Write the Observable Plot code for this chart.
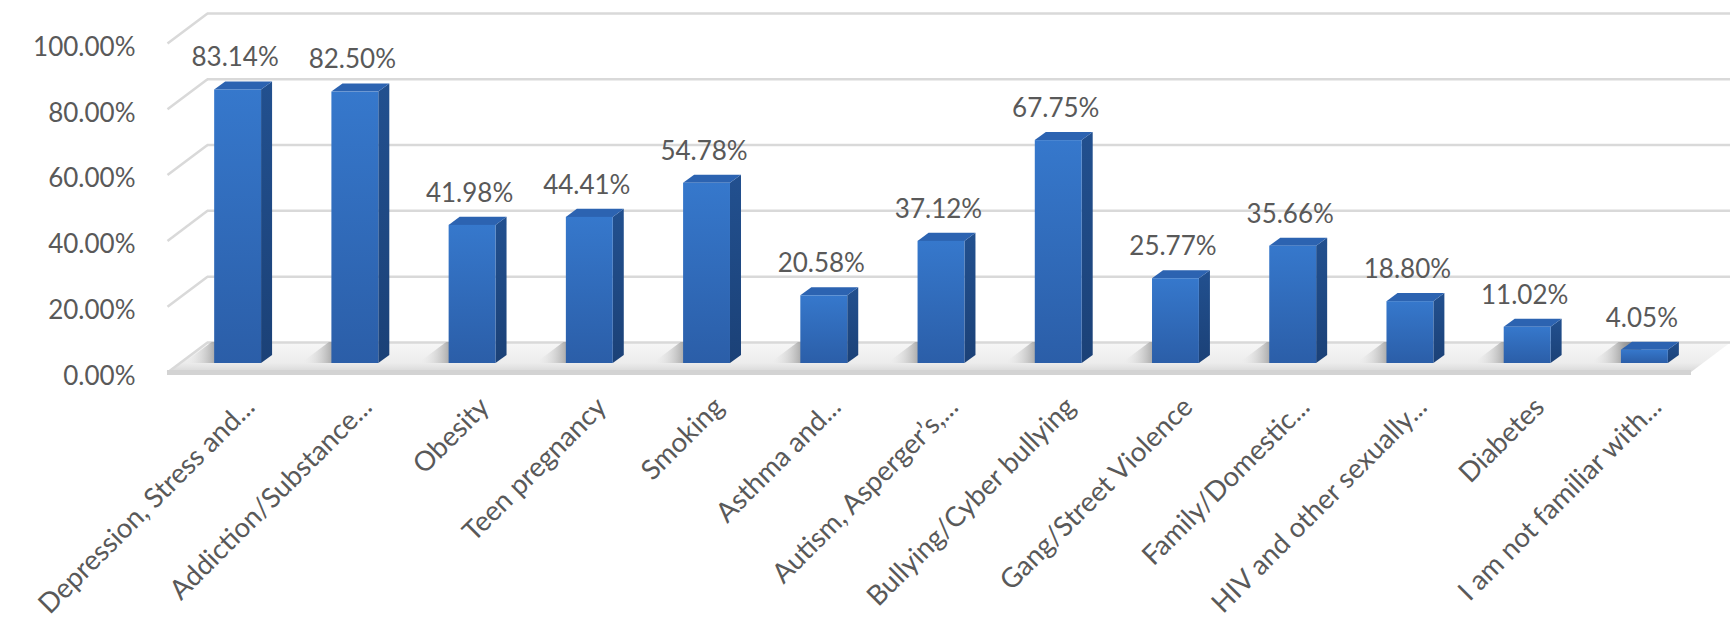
<!DOCTYPE html>
<html><head><meta charset="utf-8">
<script src="https://cdn.jsdelivr.net/npm/d3@7"></script>
<script src="https://cdn.jsdelivr.net/npm/@observablehq/plot@0.6"></script>
<style>
html,body{margin:0;padding:0;background:#fff;}
#chart{width:1730px;height:626px;overflow:hidden;}
</style></head><body><div id="chart"></div>
<script>
// ---- data ----
const categories = [
  "Depression, Stress and...",
  "Addiction/Substance...",
  "Obesity",
  "Teen pregnancy",
  "Smoking",
  "Asthma and...",
  "Autism, Asperger’s,...",
  "Bullying/Cyber bullying",
  "Gang/Street Violence",
  "Family/Domestic...",
  "HIV and other sexually...",
  "Diabetes",
  "I am not familiar with..."
];
const values = [83.14, 82.50, 41.98, 44.41, 54.78, 20.58, 37.12, 67.75, 25.77, 35.66, 18.80, 11.02, 4.05];
const yTicks = [0, 20, 40, 60, 80, 100];

// ---- derived tables ----
const n = categories.length;
const bars = categories.map((c, i) => ({i, c, v: values[i]}));

// 3D geometry (in data units): depth of the chart box and of each bar
const DEPTH_X = 0.3413, DEPTH_Y = 9.13;   // full box depth
const BAR_DX = 0.094, BAR_DY = 2.44;      // bar depth
const L = 0.30, R = 0.70;                  // bar edges inside a category slot
const FRONT = {dx: -12, dy: 9};            // front plane offset (px)

const sideFaces = bars.flatMap(b => [
  {i: b.i, x1: b.i + R, y1: 0, x2: b.i + R + BAR_DX, y2: BAR_DY},
  {i: b.i, x1: b.i + R, y1: b.v, x2: b.i + R + BAR_DX, y2: b.v + BAR_DY}
]);
const topFaces = bars.flatMap(b => [
  {i: b.i, x1: b.i + L, y1: b.v, x2: b.i + L + BAR_DX, y2: b.v + BAR_DY},
  {i: b.i, x1: b.i + R, y1: b.v, x2: b.i + R + BAR_DX, y2: b.v + BAR_DY}
]);
const shadows = bars.flatMap(b => [
  {i: b.i, x1: b.i + L - 0.26, y1: 0, x2: b.i + L - 0.26 + 0.7 * DEPTH_X, y2: 0.7 * DEPTH_Y},
  {i: b.i, x1: b.i + L + 0.02, y1: 0, x2: b.i + L + 0.02 + 0.7 * DEPTH_X, y2: 0.7 * DEPTH_Y}
]);
const floorEdge = [0, n];

function defs() {
  const d = d3.create("svg:defs");
  const g1 = d.append("linearGradient").attr("id", "frontGrad").attr("x1", 0).attr("y1", 0).attr("x2", 0).attr("y2", 1);
  g1.append("stop").attr("offset", "0%").attr("stop-color", "#3678cc");
  g1.append("stop").attr("offset", "100%").attr("stop-color", "#2b5ea8");
  const g2 = d.append("linearGradient").attr("id", "sideGrad").attr("x1", 0).attr("y1", 0).attr("x2", 0).attr("y2", 1);
  g2.append("stop").attr("offset", "0%").attr("stop-color", "#22508f");
  g2.append("stop").attr("offset", "100%").attr("stop-color", "#1b4177");
  const g3 = d.append("linearGradient").attr("id", "shadowGrad").attr("x1", 0).attr("y1", 0).attr("x2", 1).attr("y2", 0);
  g3.append("stop").attr("offset", "0%").attr("stop-color", "#f2f2f2").attr("stop-opacity", 0);
  g3.append("stop").attr("offset", "55%").attr("stop-color", "#a0a0a0");
  g3.append("stop").attr("offset", "100%").attr("stop-color", "#555555");
  const g4 = d.append("linearGradient").attr("id", "floorGrad").attr("x1", 0).attr("y1", 1).attr("x2", 0).attr("y2", 0);
  g4.append("stop").attr("offset", "0%").attr("stop-color", "#d8d8d8");
  g4.append("stop").attr("offset", "30%").attr("stop-color", "#ececec");
  g4.append("stop").attr("offset", "100%").attr("stop-color", "#f7f7f7");
  return d.node();
}

const chart = Plot.plot({
  width: 1730,
  height: 626,
  marginLeft: 179,
  marginRight: 27,
  marginTop: 34,
  marginBottom: 263,
  style: {fontFamily: "Lato, 'Open Sans', sans-serif", fontSize: "26px", color: "#595959", background: "#fff"},
  x: {domain: [0, n]},
  y: {domain: [0, 100]},
  marks: [
    defs,
    // floor
    Plot.area(floorEdge, {x1: d => d, y1: 0, x2: d => d + DEPTH_X, y2: DEPTH_Y, fill: "url(#floorGrad)", ...FRONT}),
    // back wall gridlines
    Plot.ruleY(yTicks, {x1: DEPTH_X, x2: n + DEPTH_X, y: d => d + DEPTH_Y, stroke: "#d9d9d9", strokeWidth: 2.5, ...FRONT}),
    // side wall connectors
    Plot.link(yTicks, {x1: 0, y1: d => d, x2: DEPTH_X, y2: d => d + DEPTH_Y, stroke: "#d9d9d9", strokeWidth: 2.5, ...FRONT}),
    // floor front edge
    Plot.ruleY([0], {x1: 0, x2: n, stroke: "#d3d3d3", strokeWidth: 5, ...FRONT}),
    // shadows
    Plot.area(shadows, {x1: "x1", y1: "y1", x2: "x2", y2: "y2", z: "i", fill: "url(#shadowGrad)"}),
    // bar side faces
    Plot.area(sideFaces, {x1: "x1", y1: "y1", x2: "x2", y2: "y2", z: "i", fill: "url(#sideGrad)"}),
    // bar top faces
    Plot.area(topFaces, {x1: "x1", y1: "y1", x2: "x2", y2: "y2", z: "i", fill: "#2c63b1"}),
    // bar front faces
    Plot.rectY(bars, {x1: d => d.i + L, x2: d => d.i + R, y1: 0, y2: "v", fill: "url(#frontGrad)"}),
    // value labels
    Plot.text(bars, {x: d => d.i + 0.5, y: "v", text: d => d.v.toFixed(2) + "%", dy: -32, dx: -3, fontSize: 26, fill: "#595959"}),
    // axes
    Plot.axisY({ticks: yTicks, tickSize: 0, tickPadding: 44, dy: 13, tickFormat: d => d.toFixed(2) + "%", fontSize: 26, color: "#595959"}),
    Plot.axisX({ticks: d3.range(n).map(i => i + 0.5), tickFormat: t => categories[Math.floor(t)], tickRotate: -45, tickSize: 0, tickPadding: 39, dx: 12, fontSize: 27.5, color: "#595959"})
  ]
});
document.getElementById("chart").appendChild(chart);
</script>
</body></html>
